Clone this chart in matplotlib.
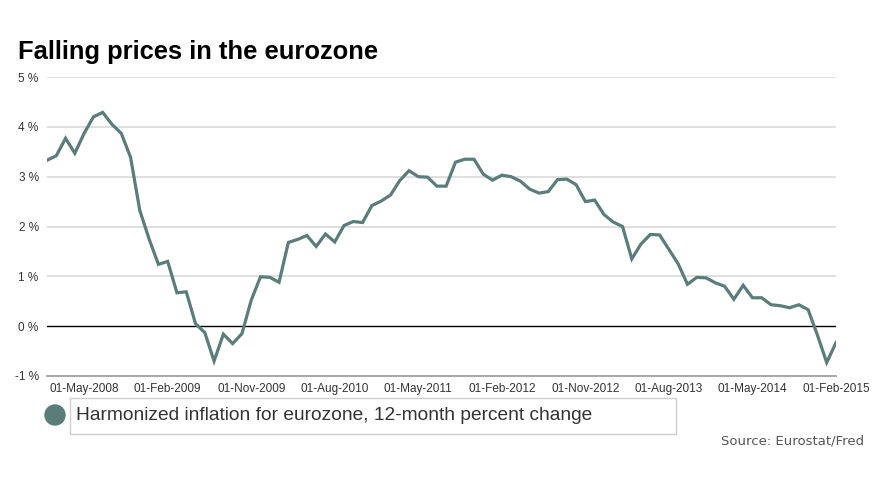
import pandas as pd
import matplotlib.pyplot as plt
import matplotlib.patches as mpatches
import numpy as np

# Eurozone HICP, 12-month percent change, Jan-2008 .. Feb-2015 (monthly)
inflacao = [
    3.33, 3.42, 3.77, 3.47, 3.87, 4.20, 4.29, 4.05, 3.87, 3.39, 2.32, 1.75,
    1.24, 1.30, 0.67, 0.69, 0.05, -0.13, -0.70, -0.16, -0.35, -0.15, 0.52, 0.99,
    0.98, 0.88, 1.68, 1.74, 1.82, 1.60, 1.85, 1.69, 2.02, 2.10, 2.08, 2.42,
    2.51, 2.63, 2.92, 3.12, 3.00, 2.99, 2.81, 2.81, 3.29, 3.35, 3.35, 3.05,
    2.93, 3.03, 3.00, 2.91, 2.75, 2.67, 2.70, 2.94, 2.95, 2.84, 2.50, 2.53,
    2.24, 2.09, 2.00, 1.35, 1.65, 1.84, 1.83, 1.54, 1.25, 0.84, 0.98, 0.97,
    0.87, 0.80, 0.54, 0.82, 0.57, 0.57, 0.43, 0.41, 0.37, 0.43, 0.33, -0.18,
    -0.73, -0.33,
]
meses = pd.date_range("2008-01-01", periods=len(inflacao), freq="MS")
y_ticks = [-1, 0, 1, 2, 3, 4, 5]

cor_linha = "#5a7d7a"
cor_texto = "#333333"

fig = plt.figure(figsize=(8.8, 4.95), dpi=100)
ax = fig.add_axes([47/880, 1-376/495, (836-47)/880, (376-77)/495])

x = np.arange(len(inflacao))
ax.plot(x, inflacao, color=cor_linha, lw=2.3, solid_joinstyle="miter", zorder=3)

ax.set_xlim(0, len(inflacao)-1)
ax.set_ylim(-1, 5)

# grade
for v in y_ticks[1:]:
    if v == 0:
        ax.axhline(v, color="black", lw=1, zorder=2)
    else:
        ax.axhline(v, color="#dcdcdc", lw=1.3, zorder=1)

for s in ["top", "right", "left"]:
    ax.spines[s].set_visible(False)
ax.spines["bottom"].set_color("#a0a0a0")
ax.spines["bottom"].set_linewidth(1.3)

ax.set_yticks(y_ticks)
ax.set_yticklabels([f"{v} %" for v in y_ticks], fontsize=8.5, color=cor_texto,
                   family="Liberation Sans")
idx_ticks = list(range(4, len(inflacao), 9))
ax.set_xticks(idx_ticks)
ax.set_xticklabels([meses[i].strftime("%d-%b-%Y") for i in idx_ticks], fontsize=8.5,
                   color=cor_texto, family="Liberation Sans")
ax.tick_params(axis="both", length=0)
ax.tick_params(axis="y", pad=6)
ax.tick_params(axis="x", pad=5)

fig.text(18/880, 1-59/495, "Falling prices in the eurozone", fontsize=18.4,
         fontweight="bold", family="Liberation Sans", color="black")

# legenda
fig.add_artist(mpatches.Circle((0.55, 0.80), 0.10, transform=fig.dpi_scale_trans,
                               color=cor_linha))
fig.add_artist(mpatches.Rectangle((0.70, 0.61), 6.06, 0.36, transform=fig.dpi_scale_trans,
                                  facecolor="white", edgecolor="#cccccc", lw=1))
fig.text(76/880, 1-416/495, "Harmonized inflation for eurozone, 12-month percent change",
         fontsize=13.8, family="Liberation Sans", color=cor_texto, va="center")

fig.text(864/880, 1-441/495, "Source: Eurostat/Fred", fontsize=9.5,
         family="DejaVu Sans", color="#555555", ha="right", va="center")

fig.savefig("out.png", dpi=100)
